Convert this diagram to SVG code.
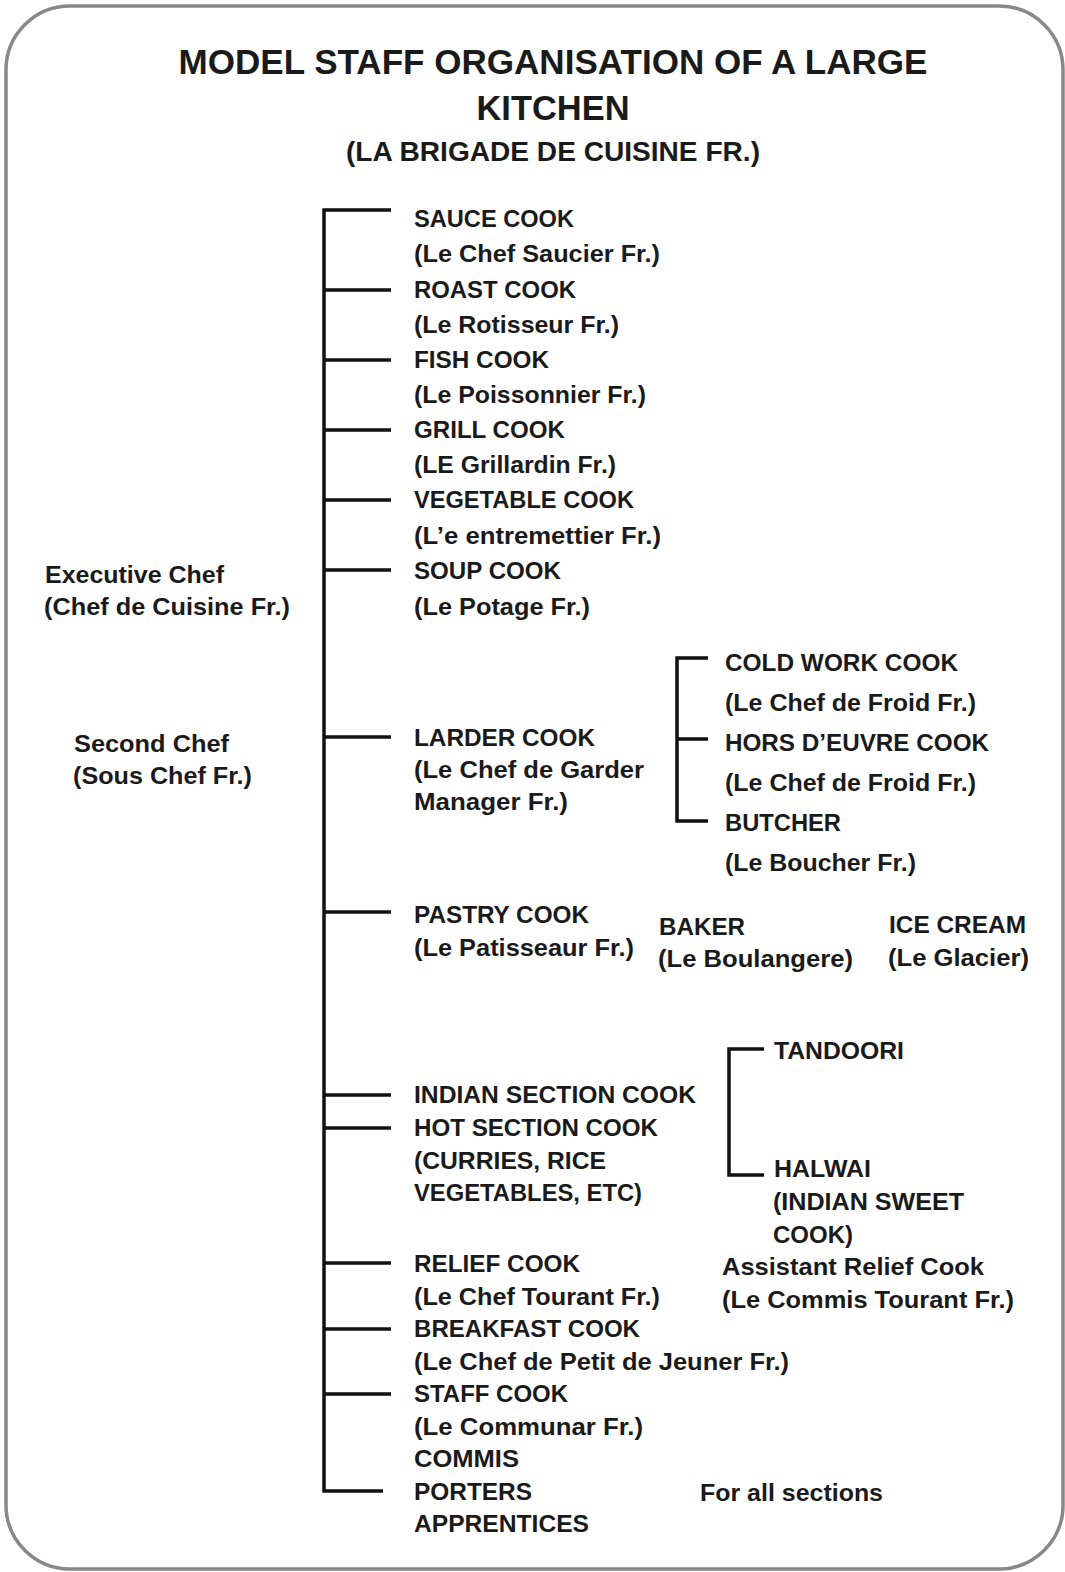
<svg xmlns="http://www.w3.org/2000/svg" width="1065" height="1572" viewBox="0 0 1065 1572">
<style>
.t{font-family:"Liberation Sans",Arial,sans-serif;font-weight:bold;font-size:24px;fill:#1a1a1a}
.h1{font-size:35px;text-anchor:middle}
.h2{font-size:28px;text-anchor:middle}
.ln{stroke:#111;stroke-width:3.5;fill:none;stroke-linecap:butt;stroke-linejoin:miter}
</style>
<rect x="6" y="6" width="1057" height="1563" rx="64" ry="64" fill="#fff" stroke="#888" stroke-width="3.5"/>
<g id="title">
<text class="t h1" x="553" y="74" textLength="749" lengthAdjust="spacingAndGlyphs">MODEL STAFF ORGANISATION OF A LARGE</text>
<text class="t h1" x="553" y="120" textLength="153" lengthAdjust="spacingAndGlyphs">KITCHEN</text>
<text class="t h2" x="553" y="161" textLength="414" lengthAdjust="spacingAndGlyphs">(LA BRIGADE DE CUISINE FR.)</text>
</g>
<g id="connectors">
<path class="ln" d="M391,210 H324 V1491 H383"/>
<path class="ln" d="M324,290 H391 M324,360 H391 M324,430 H391 M324,500 H391 M324,570 H391 M324,737 H391 M324,912 H391 M324,1095 H391 M324,1128 H391 M324,1263 H391 M324,1329 H391 M324,1394 H391"/>
<path class="ln" d="M708,658 H677 V821 H708 M677,739 H708"/>
<path class="ln" d="M764,1049 H729 V1175 H764"/>
</g>
<g id="executive-chef">
<text class="t" x="45" y="583" textLength="179" lengthAdjust="spacingAndGlyphs">Executive Chef</text>
<text class="t" x="44" y="615" textLength="246" lengthAdjust="spacingAndGlyphs">(Chef de Cuisine Fr.)</text>
</g>
<g id="second-chef">
<text class="t" x="74" y="752" textLength="155" lengthAdjust="spacingAndGlyphs">Second Chef</text>
<text class="t" x="73" y="784" textLength="179" lengthAdjust="spacingAndGlyphs">(Sous Chef Fr.)</text>
</g>
<g id="sauce-cook">
<text class="t" x="414" y="227" textLength="160" lengthAdjust="spacingAndGlyphs">SAUCE COOK</text>
<text class="t" x="414" y="262" textLength="246" lengthAdjust="spacingAndGlyphs">(Le Chef Saucier Fr.)</text>
</g>
<g id="roast-cook">
<text class="t" x="414" y="298" textLength="162" lengthAdjust="spacingAndGlyphs">ROAST COOK</text>
<text class="t" x="414" y="333" textLength="205" lengthAdjust="spacingAndGlyphs">(Le Rotisseur Fr.)</text>
</g>
<g id="fish-cook">
<text class="t" x="414" y="368" textLength="135" lengthAdjust="spacingAndGlyphs">FISH COOK</text>
<text class="t" x="414" y="403" textLength="232" lengthAdjust="spacingAndGlyphs">(Le Poissonnier Fr.)</text>
</g>
<g id="grill-cook">
<text class="t" x="414" y="438" textLength="151" lengthAdjust="spacingAndGlyphs">GRILL COOK</text>
<text class="t" x="414" y="473" textLength="202" lengthAdjust="spacingAndGlyphs">(LE Grillardin Fr.)</text>
</g>
<g id="vegetable-cook">
<text class="t" x="414" y="508" textLength="220" lengthAdjust="spacingAndGlyphs">VEGETABLE COOK</text>
<text class="t" x="414" y="544" textLength="247" lengthAdjust="spacingAndGlyphs">(L’e entremettier Fr.)</text>
</g>
<g id="soup-cook">
<text class="t" x="414" y="579" textLength="147" lengthAdjust="spacingAndGlyphs">SOUP COOK</text>
<text class="t" x="414" y="615" textLength="176" lengthAdjust="spacingAndGlyphs">(Le Potage Fr.)</text>
</g>
<g id="larder-cook">
<text class="t" x="414" y="746" textLength="181" lengthAdjust="spacingAndGlyphs">LARDER COOK</text>
<text class="t" x="414" y="778" textLength="230" lengthAdjust="spacingAndGlyphs">(Le Chef de Garder</text>
<text class="t" x="414" y="810" textLength="154" lengthAdjust="spacingAndGlyphs">Manager Fr.)</text>
</g>
<g id="cold-work-cook">
<text class="t" x="725" y="671" textLength="233" lengthAdjust="spacingAndGlyphs">COLD WORK COOK</text>
<text class="t" x="725" y="711" textLength="251" lengthAdjust="spacingAndGlyphs">(Le Chef de Froid Fr.)</text>
</g>
<g id="hors-doeuvre-cook">
<text class="t" x="725" y="751" textLength="264" lengthAdjust="spacingAndGlyphs">HORS D’EUVRE COOK</text>
<text class="t" x="725" y="791" textLength="251" lengthAdjust="spacingAndGlyphs">(Le Chef de Froid Fr.)</text>
</g>
<g id="butcher">
<text class="t" x="725" y="831" textLength="116" lengthAdjust="spacingAndGlyphs">BUTCHER</text>
<text class="t" x="725" y="871" textLength="191" lengthAdjust="spacingAndGlyphs">(Le Boucher Fr.)</text>
</g>
<g id="pastry-cook">
<text class="t" x="414" y="923" textLength="175" lengthAdjust="spacingAndGlyphs">PASTRY COOK</text>
<text class="t" x="414" y="956" textLength="220" lengthAdjust="spacingAndGlyphs">(Le Patisseaur Fr.)</text>
</g>
<g id="baker">
<text class="t" x="659" y="935" textLength="86" lengthAdjust="spacingAndGlyphs">BAKER</text>
<text class="t" x="658" y="967" textLength="195" lengthAdjust="spacingAndGlyphs">(Le Boulangere)</text>
</g>
<g id="ice-cream">
<text class="t" x="889" y="933" textLength="137" lengthAdjust="spacingAndGlyphs">ICE CREAM</text>
<text class="t" x="888" y="966" textLength="141" lengthAdjust="spacingAndGlyphs">(Le Glacier)</text>
</g>
<g id="indian-section-cook">
<text class="t" x="414" y="1103" textLength="282" lengthAdjust="spacingAndGlyphs">INDIAN SECTION COOK</text>
</g>
<g id="hot-section-cook">
<text class="t" x="414" y="1136" textLength="244" lengthAdjust="spacingAndGlyphs">HOT SECTION COOK</text>
<text class="t" x="414" y="1169" textLength="192" lengthAdjust="spacingAndGlyphs">(CURRIES, RICE</text>
<text class="t" x="414" y="1201" textLength="228" lengthAdjust="spacingAndGlyphs">VEGETABLES, ETC)</text>
</g>
<g id="tandoori">
<text class="t" x="774" y="1059" textLength="130" lengthAdjust="spacingAndGlyphs">TANDOORI</text>
</g>
<g id="halwai">
<text class="t" x="774" y="1177" textLength="97" lengthAdjust="spacingAndGlyphs">HALWAI</text>
<text class="t" x="773" y="1210" textLength="191" lengthAdjust="spacingAndGlyphs">(INDIAN SWEET</text>
<text class="t" x="773" y="1243" textLength="80" lengthAdjust="spacingAndGlyphs">COOK)</text>
</g>
<g id="relief-cook">
<text class="t" x="414" y="1272" textLength="166" lengthAdjust="spacingAndGlyphs">RELIEF COOK</text>
<text class="t" x="414" y="1305" textLength="246" lengthAdjust="spacingAndGlyphs">(Le Chef Tourant Fr.)</text>
</g>
<g id="assistant-relief-cook">
<text class="t" x="722" y="1275" textLength="262" lengthAdjust="spacingAndGlyphs">Assistant Relief Cook</text>
<text class="t" x="722" y="1308" textLength="292" lengthAdjust="spacingAndGlyphs">(Le Commis Tourant Fr.)</text>
</g>
<g id="breakfast-cook">
<text class="t" x="414" y="1337" textLength="226" lengthAdjust="spacingAndGlyphs">BREAKFAST COOK</text>
<text class="t" x="414" y="1370" textLength="375" lengthAdjust="spacingAndGlyphs">(Le Chef de Petit de Jeuner Fr.)</text>
</g>
<g id="staff-cook">
<text class="t" x="414" y="1402" textLength="154" lengthAdjust="spacingAndGlyphs">STAFF COOK</text>
<text class="t" x="414" y="1435" textLength="229" lengthAdjust="spacingAndGlyphs">(Le Communar Fr.)</text>
</g>
<g id="commis-porters-apprentices">
<text class="t" x="414" y="1467" textLength="105" lengthAdjust="spacingAndGlyphs">COMMIS</text>
<text class="t" x="414" y="1500" textLength="118" lengthAdjust="spacingAndGlyphs">PORTERS</text>
<text class="t" x="414" y="1532" textLength="175" lengthAdjust="spacingAndGlyphs">APPRENTICES</text>
</g>
<g id="for-all-sections">
<text class="t" x="700" y="1501" textLength="183" lengthAdjust="spacingAndGlyphs">For all sections</text>
</g>
</svg>
